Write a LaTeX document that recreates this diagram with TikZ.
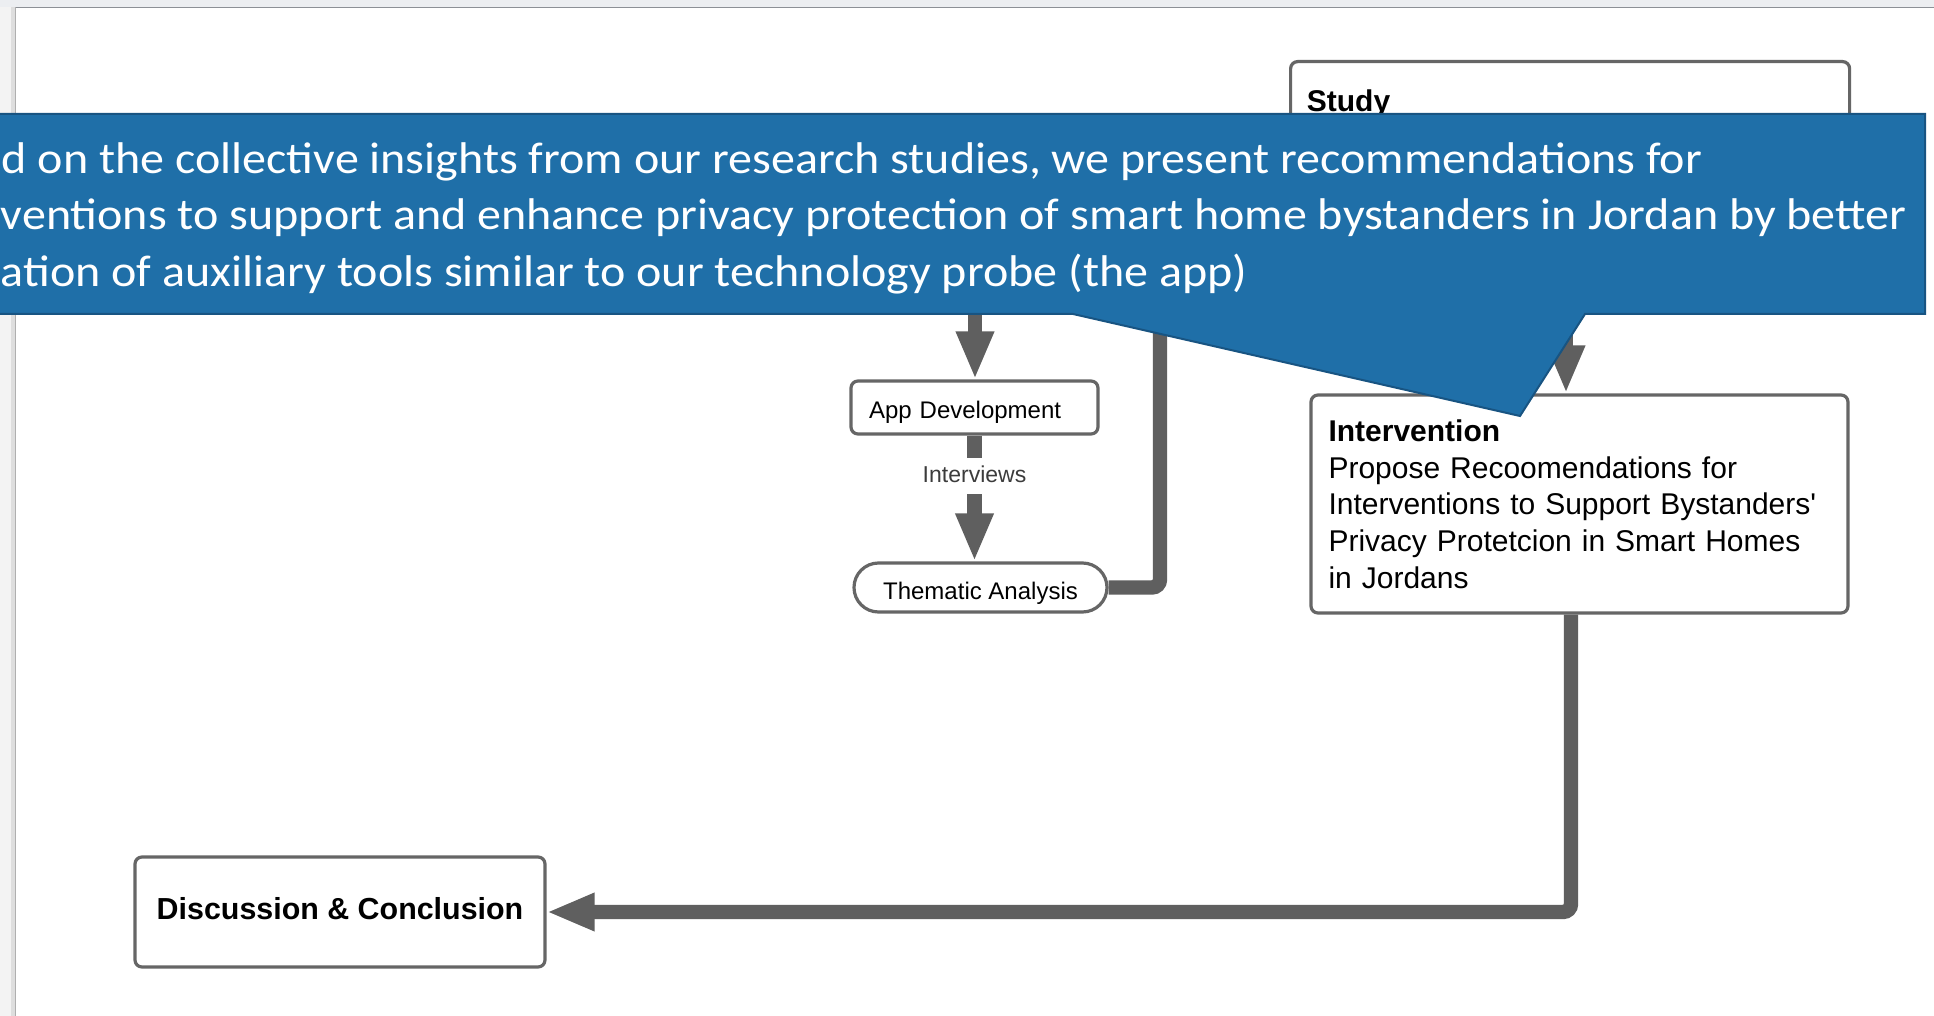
\documentclass[tikz,border=0pt]{standalone}
\usepackage{fontspec}
\setmainfont{Liberation Sans}
\newfontfamily\calloutfont[FakeStretch=1.082]{Carlito}
\usetikzlibrary{arrows.meta}

\definecolor{linegray}{RGB}{95,95,95}
\definecolor{boxgray}{RGB}{102,102,102}
\definecolor{labelgray}{RGB}{60,60,60}
\definecolor{calloutblue}{RGB}{31,111,168}
\definecolor{calloutedge}{RGB}{24,84,130}
\definecolor{topband}{RGB}{236,238,241}
\definecolor{sideband}{RGB}{243,243,243}
\definecolor{sidestrip}{RGB}{222,222,222}
\definecolor{topedge}{RGB}{140,144,150}
\definecolor{sideedge}{RGB}{175,175,175}

\tikzset{
  box/.style={draw=boxgray, line width=1.6pt, rounded corners=3.5pt, fill=white,
    inner sep=0pt, text=black},
  smalltxt/.style={font=\fontsize{12pt}{14pt}\selectfont},
  bigtxt/.style={font=\fontsize{15pt}{18.35pt}\selectfont},
  boldtxt/.style={font=\fontsize{15pt}{18.35pt}\selectfont\bfseries},
  conn/.style={draw=linegray, line width=7.2pt},
  arr/.style={conn, -{Triangle[length=24pt,width=17.5pt]}},
  lbl/.style={fill=white, text=labelgray, inner xsep=2pt, inner ysep=0pt,
    minimum height=18pt, text height=9pt, text depth=2pt,
    font=\fontsize{11.5pt}{13pt}\selectfont},
  callouttxt/.style={anchor=base west, inner sep=0pt, text=white,
    font=\calloutfont\fontsize{22.2pt}{26pt}\selectfont},
}

\begin{document}
\begin{tikzpicture}[x=0.5pt, y=-0.5pt]
  \useasboundingbox (0,0) rectangle (1934,1016);
  \clip (0,0) rectangle (1934,1016);

  % page and window frame
  \fill[topband] (0,0) rectangle (1934,1016);
  \fill[sideband] (0,7.5) rectangle (15.5,1016);
  \fill[sidestrip] (11,7.5) rectangle (15.5,1016);
  \fill[white] (15.5,7.5) rectangle (1934,1016);
  \draw[sideedge, line width=0.6pt] (15.5,1016) -- (15.5,7.5);
  \draw[topedge, line width=0.7pt] (15.5,7.5) -- (1934,7.5);

  % process boxes
  \node[box, anchor=north west, minimum width=279.5pt, minimum height=105pt]
    (study) at (1289,60) {};
  \node[anchor=base west, inner sep=0pt, boldtxt]
    (studytitle) at (1306.5,111.7) {Study};

  \node[box, smalltxt, minimum width=123.5pt, minimum height=26.5pt,
        text width=105.5pt, align=left, inner xsep=9pt,
        text height=11.8pt, text depth=1pt]
    (appdev) at (974.5,407.5) {App Development};

  \node[box, smalltxt, rounded corners=12.25pt, minimum width=126.5pt,
        minimum height=24.5pt, text height=13.2pt, text depth=1pt]
    (thematic) at (980.5,587.5) {Thematic Analysis};

  \node[box, bigtxt, minimum width=268.5pt, minimum height=109pt,
        text width=251pt, align=left, inner xsep=8.75pt]
    (interv) at (1579.5,504)
    {\textbf{Intervention}\\
     Propose Recoomendations for\\
     Interventions to Support Bystanders\textquotesingle\\
     Privacy Protetcion in Smart Homes\\
     in Jordans};

  \node[box, font=\fontsize{15.2pt}{18pt}\selectfont\bfseries,
        minimum width=205pt, minimum height=55pt,
        text height=10.9pt, text depth=3.5pt]
    (disc) at (340,912) {Discussion \& Conclusion};

  % connectors
  \coordinate (srcA) at (975,200);
  \coordinate (bendT) at (1160,200);
  \coordinate (xi) at (1566,0);
  \coordinate (xo) at (1571,0);

  \draw[arr] (srcA) -- (srcA |- appdev.north);
  \draw[arr] (appdev.south) -- node[lbl, pos=0.32] (intlbl) {Interviews}
    (appdev.south |- thematic.north);
  \draw[arr, rounded corners=4pt] (thematic.east) -| (bendT) -- (bendT -| study.west);
  \draw[arr] (xi |- study.south) -- (xi |- interv.north);
  \draw[arr, rounded corners=4pt] (xo |- interv.south) |- (disc.east);

  % callout banner
  \filldraw[fill=calloutblue, draw=calloutedge, line width=1pt]
    (-10,114) -- (1925,114) -- (1925,314) -- (1585,314) -- (1520,416)
    -- (1073,314) -- (-10,314) -- cycle;
  \node[callouttxt] (cl1) at (1.5,173.3)
    {d on the collective insights from our research studies, we present recommendations for};
  \node[callouttxt] (cl2) at (0.5,230)
    {ventions to support and enhance privacy protection of smart home bystanders in Jordan by better};
  \node[callouttxt] (cl3) at (0.5,286.7)
    {ation of auxiliary tools similar to our technology probe (the app)};
\end{tikzpicture}
\end{document}
